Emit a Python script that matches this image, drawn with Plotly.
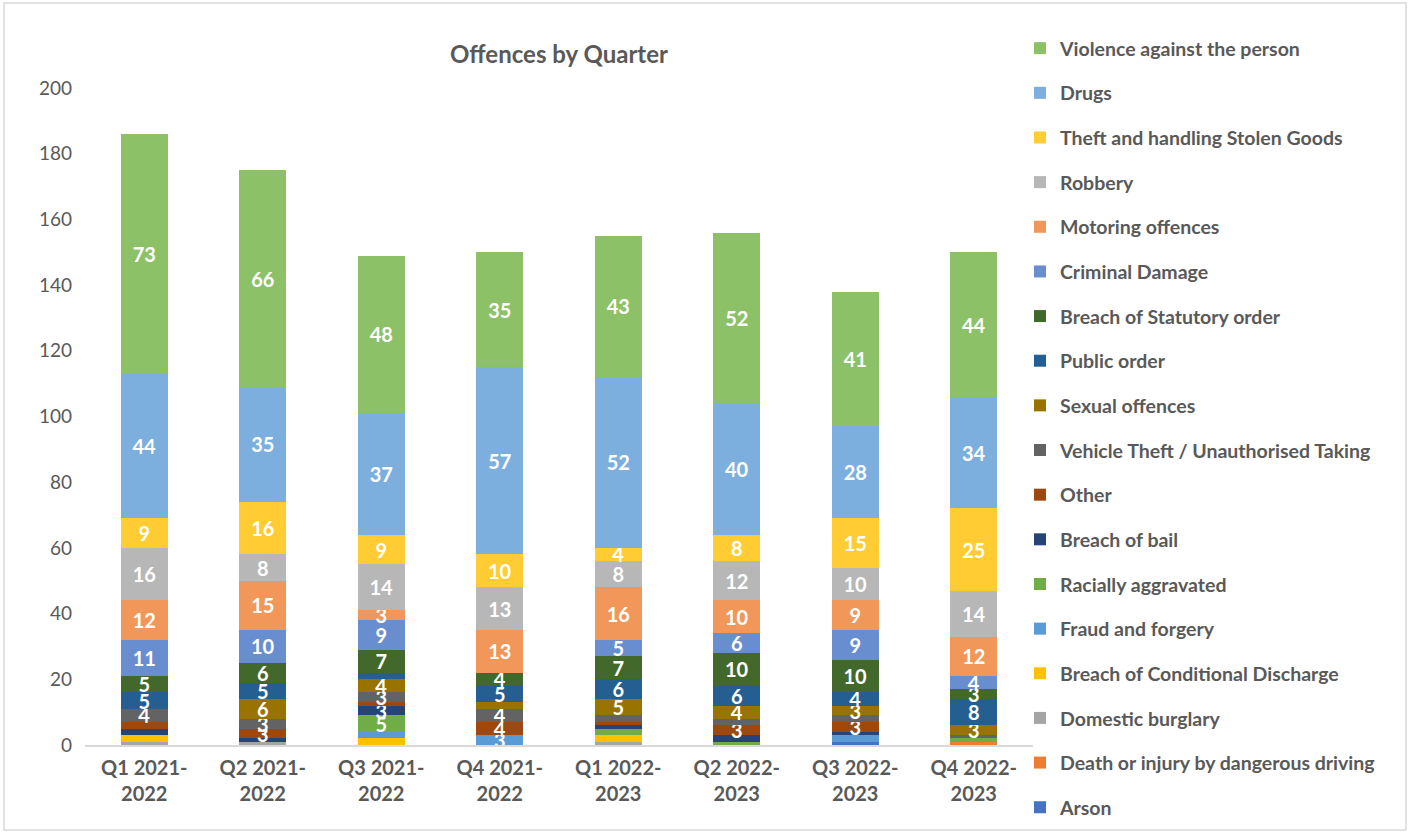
import plotly.graph_objects as go

quarters = ["Q1 2021-<br>2022", "Q2 2021-<br>2022", "Q3 2021-<br>2022", "Q4 2021-<br>2022",
            "Q1 2022-<br>2023", "Q2 2022-<br>2023", "Q3 2022-<br>2023", "Q4 2022-<br>2023"]

# Stack order bottom -> top
arson =                [0, 0, 0, 0, 0, 0, 1, 0]
death_driving =        [0, 0, 0, 0, 0, 0, 0, 1]
domestic_burglary =    [1, 1, 0, 0, 1, 0, 0, 0]
breach_cond_discharge = [2, 0, 2, 0, 2, 0, 0, 0]
fraud_forgery =        [0, 0, 2, 3, 0, 0, 2, 0]
racially_aggravated =  [0, 0, 5, 0, 2, 1, 0, 1]
breach_bail =          [2, 1, 3, 0, 1, 2, 1, 0]
other =                [2, 3, 1, 4, 1, 3, 3, 0]
vehicle_theft =        [4, 3, 3, 4, 2, 2, 2, 1]
sexual_offences =      [0, 6, 4, 2, 5, 4, 3, 3]
public_order =         [5, 5, 2, 5, 6, 6, 4, 8]
breach_statutory =     [5, 6, 7, 4, 7, 10, 10, 3]
criminal_damage =      [11, 10, 9, 0, 5, 6, 9, 4]
motoring =             [12, 15, 3, 13, 16, 10, 9, 12]
robbery =              [16, 8, 14, 13, 8, 12, 10, 14]
theft_stolen =         [9, 16, 9, 10, 4, 8, 15, 25]
drugs =                [44, 35, 37, 57, 52, 40, 28, 34]
violence =             [73, 66, 48, 35, 43, 52, 41, 44]

series = [
    ("Arson", arson, "#4472C4"),
    ("Death or injury by dangerous driving", death_driving, "#ED7D31"),
    ("Domestic burglary", domestic_burglary, "#A5A5A5"),
    ("Breach of Conditional Discharge", breach_cond_discharge, "#FFC000"),
    ("Fraud and forgery", fraud_forgery, "#5B9BD5"),
    ("Racially aggravated", racially_aggravated, "#70AD47"),
    ("Breach of bail", breach_bail, "#264478"),
    ("Other", other, "#9E480E"),
    ("Vehicle Theft / Unauthorised Taking", vehicle_theft, "#636363"),
    ("Sexual offences", sexual_offences, "#997300"),
    ("Public order", public_order, "#255E91"),
    ("Breach of Statutory order", breach_statutory, "#43682B"),
    ("Criminal Damage", criminal_damage, "#698ED0"),
    ("Motoring offences", motoring, "#F1975A"),
    ("Robbery", robbery, "#B7B7B7"),
    ("Theft and handling Stolen Goods", theft_stolen, "#FFCD33"),
    ("Drugs", drugs, "#7CAFDD"),
    ("Violence against the person", violence, "#8CC168"),
]

W, H = 1411, 834
ML, MR, MT, MB = 85, 378, 88, 89
PW, PH = W - ML - MR, H - MT - MB
FONT = "Lato"

fig = go.Figure()
n = len(series)
for i, (name, vals, color) in enumerate(series):
    labels = [f"<b>{v}</b>" if v >= 3 else "" for v in vals]
    fig.add_trace(go.Bar(
        x=quarters, y=vals, name=f"<b>{name}</b>", legendgroup=name, legendrank=n - i,
        marker=dict(color=color, line=dict(width=0)),
        text=labels, textposition="inside", insidetextanchor="middle",
        textangle=0, constraintext="none",
        textfont=dict(color="white", size=20, family=FONT),
    ))

fig.update_layout(
    width=W, height=H,
    barmode="stack", bargap=0.6,
    plot_bgcolor="white", paper_bgcolor="white",
    margin=dict(l=ML, r=MR, t=MT, b=MB),
    font=dict(family=FONT, color="#595959"),
    uniformtext=dict(minsize=19, mode="show"),
    title=dict(text="<b>Offences by Quarter</b>", x=(ML + (W - MR)) / 2 / W, xanchor="center",
               y=1 - 55 / H, yanchor="middle",
               font=dict(size=24, color="#595959", family=FONT)),
    xaxis=dict(showline=True, linecolor="#D9D9D9", linewidth=1.5, ticks="",
               tickfont=dict(size=20, color="#595959", family=FONT),
               ticklabelstandoff=4),
    yaxis=dict(range=[0, 200], dtick=20, showgrid=False, zeroline=False, showline=False,
               tickfont=dict(size=19, color="#595959", family=FONT), ticklabelstandoff=12),
    legend=dict(x=(1020 - ML) / PW, xanchor="left",
                y=1 + (MT - 29) / PH, yanchor="top",
                traceorder="grouped", tracegroupgap=16.3, itemwidth=30,
                maxheight=1.0, bgcolor="rgba(0,0,0,0)",
                font=dict(size=19.5, color="#595959", family=FONT),
                itemclick=False),
)
fig.update_xaxes(ticktext=[f"<b>{q}</b>" for q in quarters], tickvals=quarters)

# chart border
fig.add_shape(type="rect", xref="paper", yref="paper",
              x0=-(ML - 4) / PW, x1=1 + (MR - 5) / PW,
              y0=-(MB - 4) / PH, y1=1 + (MT - 3) / PH,
              line=dict(color="#D9D9D9", width=1.5), fillcolor="rgba(0,0,0,0)", layer="below")

fig.write_html("out.html", config={"displayModeBar": False},
               post_script="document.body.style.margin='0';")
